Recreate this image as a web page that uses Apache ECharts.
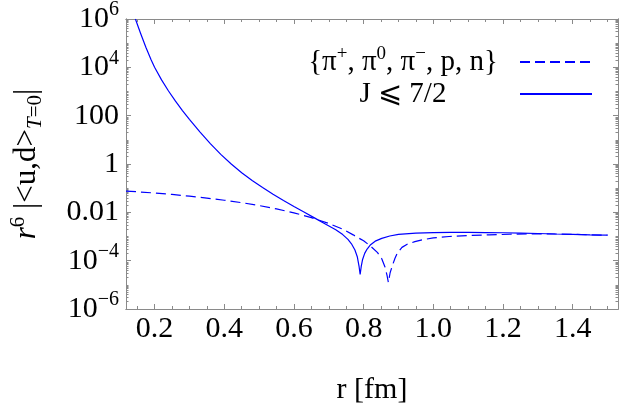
<!DOCTYPE html>
<html><head><meta charset="utf-8">
<script src="https://cdn.jsdelivr.net/npm/echarts@6/dist/echarts.min.js"></script>
<style>html,body{margin:0;padding:0;background:#fff}#c{width:625px;height:410px}</style>
</head><body><div id="c"></div>
<script>
// ---- data ----
const seriesNames = ['{π^+, π^0, π^−, p, n}', 'J ⩽ 7/2'];
const dashedR = [0.118, 0.15, 0.2, 0.25, 0.3, 0.35, 0.4, 0.45, 0.5, 0.55, 0.6, 0.65, 0.7, 0.74, 0.77, 0.8, 0.82, 0.84, 0.852, 0.861, 0.867, 0.871, 0.876, 0.883, 0.89, 0.897, 0.91, 0.925, 0.947, 0.97, 1.0, 1.045, 1.1, 1.16, 1.22, 1.28, 1.35, 1.4, 1.45, 1.5];
const dashedV = [0.0759, 0.0708, 0.0631, 0.055, 0.0468, 0.0389, 0.0316, 0.0251, 0.0191, 0.0138, 0.00955, 0.00603, 0.00347, 0.002, 1.17e-3, 6.61e-4, 3.98e-4, 2.14e-4, 1.2e-4, 5.62e-5, 2.51e-5, 1.26e-5, 3.16e-5, 6.61e-5, 1.26e-4, 2.09e-4, 3.55e-4, 4.79e-4, 6.17e-4, 7.41e-4, 8.71e-4, 1.0e-3, 1.1e-3, 1.17e-3, 1.24e-3, 1.29e-3, 1.27e-3, 1.23e-3, 1.17e-3, 1.14e-3];
const solidR = [0.145, 0.16, 0.175, 0.19, 0.2, 0.22, 0.24, 0.26, 0.28, 0.3, 0.33, 0.36, 0.39, 0.42, 0.45, 0.48, 0.51, 0.54, 0.57, 0.6, 0.63, 0.66, 0.69, 0.72, 0.74, 0.755, 0.765, 0.775, 0.782, 0.787, 0.79, 0.793, 0.797, 0.803, 0.81, 0.82, 0.835, 0.852, 0.875, 0.9, 0.95, 1.0, 1.05, 1.1, 1.15, 1.2, 1.25, 1.3, 1.35, 1.4, 1.45, 1.5];
const solidV = [1e6, 2.51e5, 6.76e4, 2.04e4, 1.0e4, 3.02e3, 1.05e3, 398, 162, 70.8, 21.4, 6.92, 2.51, 1.0, 0.437, 0.209, 0.107, 0.0562, 0.0309, 0.0174, 0.01, 0.00575, 0.00331, 0.00191, 0.0012, 7.59e-4, 5.01e-4, 2.75e-4, 1.41e-4, 5.62e-5, 2.69e-5, 5.62e-5, 1.12e-4, 2.0e-4, 3.02e-4, 4.57e-4, 6.61e-4, 8.32e-4, 1.05e-3, 1.23e-3, 1.38e-3, 1.45e-3, 1.48e-3, 1.48e-3, 1.46e-3, 1.43e-3, 1.38e-3, 1.33e-3, 1.27e-3, 1.23e-3, 1.17e-3, 1.14e-3];
const xTicks = [0.2, 0.4, 0.6, 0.8, 1.0, 1.2, 1.4];
const xTickLabels = ['0.2', '0.4', '0.6', '0.8', '1.0', '1.2', '1.4'];
const xMinorTicks = [0.15, 0.25, 0.3, 0.35, 0.45, 0.5, 0.55, 0.65, 0.7, 0.75, 0.85, 0.9, 0.95, 1.05, 1.1, 1.15, 1.25, 1.3, 1.35, 1.45, 1.5];
const yTicks = [1e-6, 1e-4, 1e-2, 1, 1e2, 1e4, 1e6];
const yTickLabels = ['10^−6', '10^−4', '0.01', '1', '100', '10^4', '10^6'];
const xName = 'r [fm]';

// ---- build ----
const FONT = 'Liberation Serif';
const FRAME = '#8a8a8a';
const BLUE = '#0000ff';
const X0 = 0.118, X1 = 1.530, Y0 = 1e-6, Y1 = 1e6;

const yMinor = [];
for (let n = -6; n < 6; n++) for (let k = 1; k <= 9; k++) {
  if (k === 1 && n % 2 === 0) continue;
  yMinor.push(+(k * Math.pow(10, n)).toPrecision(3));
}

function rich(str) { // 'a^b' -> base + superscript
  const p = str.split('^');
  return p.length > 1 ? '{n|' + p[0] + '}{s|' + p[1] + '}' : '{n|' + str + '}';
}
const labelRich = {
  n: {fontSize: 30, fontFamily: FONT, color: '#000', lineHeight: 38, verticalAlign: 'middle'},
  s: {fontSize: 20, fontFamily: FONT, color: '#000', lineHeight: 20, verticalAlign: 'top'}
};

function xAx(pos, major, labels) {
  return {
    type: 'value', min: X0, max: X1, position: pos,
    axisLine: {show: true, onZero: false, lineStyle: {color: FRAME, width: 1}},
    axisTick: {show: true, inside: true, length: major ? 5 : 3, customValues: major ? xTicks : xMinorTicks, lineStyle: {color: FRAME}},
    axisLabel: labels ? {show: true, customValues: xTicks, margin: 5, fontSize: 30, fontFamily: FONT, color: '#000',
      formatter: v => { const i = xTicks.findIndex(t => Math.abs(t - v) < 1e-9); return i >= 0 ? xTickLabels[i] : ''; }} : {show: false},
    splitLine: {show: false}
  };
}
function yAx(pos, major, labels) {
  return {
    type: 'log', logBase: 10, min: Y0, max: Y1, position: pos,
    axisLine: {show: true, onZero: false, lineStyle: {color: FRAME, width: 1}},
    axisTick: {show: true, inside: true, length: major ? 5 : 2.5, customValues: major ? yTicks : yMinor, lineStyle: {color: FRAME}},
    axisLabel: labels ? {show: true, customValues: yTicks, margin: 7, rich: labelRich,
      formatter: v => { const i = yTicks.findIndex(t => Math.abs(Math.log10(t) - Math.log10(v)) < 1e-6); return i >= 0 ? rich(yTickLabels[i]) : ''; }} : {show: false},
    splitLine: {show: false}
  };
}

const xAxes = [xAx('bottom', true, true), xAx('bottom', false, false), xAx('top', true, false), xAx('top', false, false)];
xAxes[0].name = xName;
xAxes[0].nameLocation = 'middle';
xAxes[0].nameGap = 66;
xAxes[0].nameTextStyle = {fontSize: 30, fontFamily: FONT, color: '#000'};

const TF = 31;
const yAxes = [yAx('left', true, true), yAx('left', false, false), yAx('right', true, false), yAx('right', false, false)];
yAxes[0].name = '{i|r}{s|6}{n| |<u,d>}{bi|T}{b|=0}{n||}';
yAxes[0].nameLocation = 'middle';
yAxes[0].nameRotate = 90;
yAxes[0].nameGap = 80;
yAxes[0].nameTextStyle = {
  fontSize: TF, fontFamily: FONT, color: '#000',
  rich: {
    i: {fontSize: TF, fontFamily: FONT, fontStyle: 'italic', color: '#000', lineHeight: 38, verticalAlign: 'middle'},
    n: {fontSize: TF, fontFamily: FONT, color: '#000', lineHeight: 38, verticalAlign: 'middle'},
    s: {fontSize: 21, fontFamily: FONT, color: '#000', lineHeight: 21, verticalAlign: 'top'},
    bi: {fontSize: 21, fontFamily: FONT, fontStyle: 'italic', color: '#000', lineHeight: 21, verticalAlign: 'bottom'},
    b: {fontSize: 21, fontFamily: FONT, color: '#000', lineHeight: 21, verticalAlign: 'bottom'}
  }
};

function legendRich(name) {
  const parts = name.split(/\^(.)/);
  let s = '';
  parts.forEach((p, i) => { if (p) s += (i % 2 ? '{s|' : '{t|') + p + '}'; });
  return s;
}
function legendText(name) {
  let body = name, tail = '';
  if (body.endsWith('}')) { body = body.slice(0, -1); tail = '}'; }
  return legendRich(body) + tail;
}
const legRich = {
  t: {fontSize: 29, fontFamily: FONT, fill: '#000', lineHeight: 34, verticalAlign: 'middle'},
  s: {fontSize: 19, fontFamily: FONT, fill: '#000', lineHeight: 19, verticalAlign: 'top'}
};
const legY = [62, 94];
const legDash = [[10, 5], null];

const chart = echarts.init(document.getElementById('c'), null, {renderer: 'canvas'});
chart.setOption({
  animation: false,
  backgroundColor: '#fff',
  grid: {left: 122, right: 7, top: 19, bottom: 84, containLabel: false},
  xAxis: xAxes,
  yAxis: yAxes,
  series: [
    {type: 'line', name: seriesNames[0], xAxisIndex: 0, yAxisIndex: 0, showSymbol: false, smooth: false,
      lineStyle: {color: BLUE, width: 1.2, type: [10, 5]}, data: dashedR.map((r, i) => [r, dashedV[i]])},
    {type: 'line', name: seriesNames[1], xAxisIndex: 0, yAxisIndex: 0, showSymbol: false, smooth: false,
      lineStyle: {color: BLUE, width: 1.2}, data: solidR.map((r, i) => [r, solidV[i]])}
  ],
  graphic: seriesNames.map((nm, i) => [
    {type: 'text', x: 403, y: legY[i], style: {text: legendText(nm), rich: legRich, align: 'center', verticalAlign: 'middle',
      font: '29px "' + FONT + '"', fill: '#000'}},
    {type: 'line', shape: {x1: 520, y1: legY[i], x2: 592, y2: legY[i]},
      style: {stroke: BLUE, lineWidth: 2.2, lineDash: legDash[i]}}
  ]).flat()
});
</script></body></html>
